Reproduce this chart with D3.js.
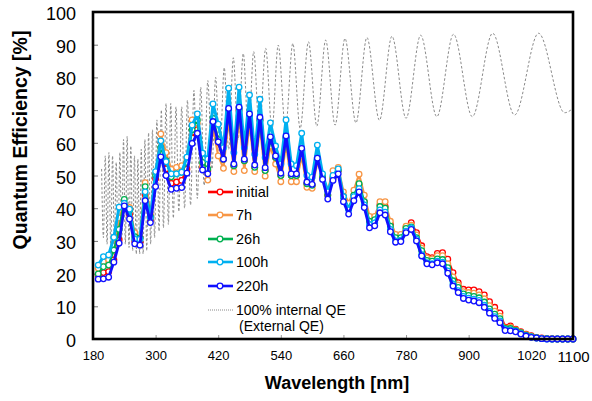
<!DOCTYPE html>
<html>
<head>
<meta charset="utf-8">
<script src="https://d3js.org/d3.v7.min.js"></script>
<style>
  body { margin: 0; background: #fff; }
  text { font-family: "Liberation Sans", Arial, sans-serif; fill: #000; }
</style>
</head>
<body>
<div id="chart"></div>
<script>
// wavelength grid of the measured curves [nm]
var wavelengths = [190,200,210,220,230,240,250,260,270,280,290,300,310,320,330,340,350,360,370,380,
  390,400,410,420,430,440,450,460,470,480,490,500,510,520,530,540,550,560,570,580,
  590,600,610,620,630,640,650,660,670,680,690,700,710,720,730,740,750,760,770,780,
  790,800,810,820,830,840,850,860,870,880,890,900,910,920,930,940,950,960,970,980,
  990,1000,1010,1020,1030,1040,1050,1060,1070,1080,1090,1100];

var qeInitial = [19.5,20.3,20.6,24.2,30.3,41.0,38.0,30.0,29.5,44.0,36.5,49.0,56.5,52.0,47.6,48.0,48.5,52.0,61.5,64.0,
  52.5,51.5,66.0,60.0,55.0,70.0,53.0,70.0,54.5,68.0,52.5,67.0,51.5,61.0,55.5,50.0,61.5,50.0,50.0,57.5,
  47.5,47.0,55.0,49.5,44.0,49.0,51.5,43.5,40.0,44.0,47.0,42.0,36.0,36.5,41.0,40.5,35.0,31.5,31.8,34.2,
  35.6,32.5,28.5,25.2,24.9,26.2,26.4,24.4,20.3,17.2,15.2,15.0,15.0,14.5,13.5,11.4,9.7,8.0,3.6,4.0,
  3.0,2.2,1.5,1.0,0.5,0.3,0.1,0.1,0,0,0,0];

var qe7h = [21.6,23.6,24.2,28.5,37.0,41.5,40.2,32.5,31.0,47.8,38.0,50.5,62.7,57.0,51.9,52.5,53.0,55.0,67.0,66.0,
  53.0,48.6,65.0,56.0,52.2,67.0,51.2,68.0,51.5,66.0,51.2,65.0,49.8,59.0,53.5,48.1,59.5,48.1,48.1,56.0,
  46.4,46.1,54.0,50.0,45.5,51.5,52.5,45.0,41.5,45.5,50.4,44.0,37.5,37.5,42.0,42.0,36.0,32.0,32.0,34.5,
  34.8,31.8,27.8,24.8,24.5,25.5,25.5,23.0,19.0,16.5,14.5,14.2,14.0,13.5,12.3,10.2,8.5,7.0,3.4,3.6,
  2.8,2.0,1.3,0.8,0.4,0.2,0.1,0,0,0,0,0];

var qe26h = [19.9,22.1,22.6,27.2,33.5,42.7,39.4,31.3,30.8,46.6,37.5,50.0,58.5,54.5,49.6,50.5,51.0,54.0,64.0,67.0,
  54.0,52.0,67.5,61.0,55.0,70.0,53.0,70.5,54.5,68.5,52.5,67.0,51.5,61.0,55.5,50.0,61.5,50.0,50.0,58.0,
  47.5,47.0,55.5,49.5,44.0,49.5,51.5,43.5,40.0,44.0,47.5,42.0,36.0,36.5,40.5,40.0,34.5,31.0,31.0,33.8,
  34.3,31.0,27.0,24.0,23.8,24.5,24.3,21.8,17.8,15.8,13.8,13.3,13.0,12.6,11.3,9.2,7.6,6.2,3.2,3.2,
  2.6,1.9,1.2,0.7,0.4,0.2,0.1,0,0,0,0,0];

var qe100h = [22.6,25.2,25.7,31.1,40.3,41.5,39.7,30.5,30.5,45.0,37.0,51.2,60.6,54.2,50.5,50.5,51.0,55.6,65.4,68.8,
  56.8,55.0,71.9,65.7,58.5,76.7,57.0,77.0,58.5,74.6,56.5,73.3,55.5,66.1,59.0,53.5,67.0,53.5,53.0,62.9,
  50.0,49.5,59.3,50.5,45.0,50.0,52.0,43.5,39.5,43.5,46.0,41.0,35.0,35.5,39.5,38.8,33.5,30.0,30.2,33.0,
  34.0,30.5,25.8,23.3,23.0,23.8,23.5,20.8,16.8,14.8,13.0,12.5,12.2,11.8,10.3,8.4,6.8,5.5,2.9,2.8,
  2.4,1.7,1.0,0.6,0.3,0.1,0,0,0,0,0,0];

var qe220h = [18.3,18.4,18.9,23.5,29.3,40.7,36.7,29.1,28.7,42.3,35.6,46.6,55.7,50.0,45.8,46.1,46.3,50.7,59.8,62.9,
  51.7,50.5,66.5,60.3,55.0,70.5,53.5,70.9,55.0,68.8,53.2,67.8,52.4,61.8,56.0,50.7,62.1,50.5,50.5,58.3,
  48.0,47.3,55.3,48.8,42.8,48.5,50.5,42.0,38.2,42.3,45.0,40.2,34.0,34.6,38.6,37.9,32.8,29.6,29.8,32.5,
  33.5,30.0,25.4,23.0,22.7,23.3,23.0,20.1,16.2,14.2,12.4,11.9,11.6,11.1,9.7,7.9,6.3,5.0,2.6,2.5,
  2.2,1.5,0.9,0.5,0.3,0.1,0,0,0,0,0,0];

// 100% internal QE (external QE) curve: turning points of the interference fringes
var extNm = [196.5,200,203.5,207,210.5,214,217.5,221,224.5,228,231.5,235,238.5,242,245.5,249,252.5,256,259.5,263,
  266,269.5,272.5,276,279.5,283,286.5,290.5,294,298,302.5,306.5,311,315,320,324.5,329,334,339,344.5,
  350,355.5,361,367,373.5,380,386.5,393,400,408,415,423,431.5,440,449,458,468,478,488,499,
  511,523,535,549,563,577,593,609,626,644,663,684,705,729,753,780,808,839,871,907,
  946,988,1034,1084,1100];
var extVal = [52,31,56,29,57,28,56,29,54,28,57,29,61,29,62,28,59,27,56,26,
  55,26,58,26,61,27,63,29,64,31,67,33,70,34,72,35,72,37,71,39,
  71,40,73,41,76,43,77,47,79,52,80,55,83,58,86,61,87.3,62,87.9,63,
  88.9,64,89.9,64.5,90.4,64.4,90.9,65.1,91.4,65.4,91.9,66.1,92.2,66.9,92.6,67.5,92.9,68,93.2,68,
  93.5,68.5,93.5,69.2,70.5];

var seriesNames = ["initial", "7h", "26h", "100h", "220h"];
var seriesColors = ["#ff0000", "#f79646", "#00b050", "#00b0f0", "#1010ff"];
var seriesValues = [qeInitial, qe7h, qe26h, qe100h, qe220h];

var xTicks = [180, 300, 420, 540, 660, 780, 900, 1020, 1100];
var yTicks = [0, 10, 20, 30, 40, 50, 60, 70, 80, 90, 100];

var width = 592, height = 401;
var margin = { top: 12, right: 19, bottom: 62, left: 93 };

var svg = d3.select('#chart').append('svg')
  .attr('width', width)
  .attr('height', height);

var x = d3.scaleLinear().domain([180, 1100]).range([margin.left, width - margin.right]);
var y = d3.scaleLinear().domain([0, 100]).range([height - margin.bottom, margin.top]);

// axes
var yAxis = svg.append('g')
  .attr('transform', 'translate(' + margin.left + ',0)')
  .call(d3.axisLeft(y).tickValues(yTicks).tickSize(-5).tickPadding(17));
yAxis.select('.domain').remove();
yAxis.selectAll('line').attr('stroke', '#777');
yAxis.selectAll('text').style('font-size', '18px').attr('dy', '0.42em');

var xAxis = svg.append('g')
  .attr('transform', 'translate(0,' + (height - margin.bottom) + ')')
  .call(d3.axisBottom(x).tickValues(xTicks).tickFormat(d3.format('d')).tickSize(-4).tickPadding(12));
xAxis.select('.domain').remove();
xAxis.selectAll('line').attr('stroke', '#999');
xAxis.selectAll('text')
  .style('font-size', function(d) { return d === 1100 ? '15px' : '13px'; })
  .attr('dy', function(d) { return d === 1100 ? '0.75em' : '0.71em'; });

// external QE dotted curve
var extLine = d3.line()
  .x(function(d) { return x(d[0]); })
  .y(function(d) { return y(d[1]); })
  .curve(d3.curveMonotoneX);

svg.append('path')
  .datum(d3.zip(extNm, extVal))
  .attr('d', extLine)
  .attr('fill', 'none')
  .attr('stroke', '#8a8a8a')
  .attr('stroke-width', 1)
  .attr('stroke-dasharray', '2.5,2');

// measured series
var line = d3.line()
  .x(function(d) { return x(d[0]); })
  .y(function(d) { return y(d[1]); });

seriesValues.forEach(function(vals, i) {
  var pts = d3.zip(wavelengths, vals);
  var g = svg.append('g');
  g.append('path')
    .datum(pts)
    .attr('d', line)
    .attr('fill', 'none')
    .attr('stroke', seriesColors[i])
    .attr('stroke-width', i === 4 ? 2.8 : (i === 3 ? 3 : 2.2))
    .attr('stroke-linejoin', 'round');
  g.selectAll('circle')
    .data(pts)
    .enter().append('circle')
    .attr('cx', function(d) { return x(d[0]); })
    .attr('cy', function(d) { return y(d[1]); })
    .attr('r', 2.8)
    .attr('fill', '#fff')
    .attr('stroke', seriesColors[i])
    .attr('stroke-width', 1.3);
});

// frame
svg.append('rect')
  .attr('x', margin.left)
  .attr('y', margin.top)
  .attr('width', width - margin.left - margin.right)
  .attr('height', height - margin.top - margin.bottom)
  .attr('fill', 'none')
  .attr('stroke', '#000')
  .attr('stroke-width', 2.6);

// legend
var legendY = [192, 215, 239, 262, 286];
var legend = svg.append('g');
seriesNames.forEach(function(name, i) {
  legend.append('line')
    .attr('x1', 208).attr('x2', 233)
    .attr('y1', legendY[i]).attr('y2', legendY[i])
    .attr('stroke', seriesColors[i])
    .attr('stroke-width', 2.6);
  legend.append('circle')
    .attr('cx', 220).attr('cy', legendY[i]).attr('r', 2.8)
    .attr('fill', '#fff')
    .attr('stroke', seriesColors[i])
    .attr('stroke-width', 1.3);
  legend.append('text')
    .attr('x', 236).attr('y', legendY[i])
    .attr('dy', '0.36em')
    .style('font-size', '14.5px')
    .text(name);
});
legend.append('line')
  .attr('x1', 208).attr('x2', 233)
  .attr('y1', 310).attr('y2', 310)
  .attr('stroke', '#8a8a8a')
  .attr('stroke-width', 1)
  .attr('stroke-dasharray', '1,1');
legend.append('text')
  .attr('x', 236).attr('y', 310).attr('dy', '0.36em')
  .style('font-size', '14px')
  .text('100% internal QE');
legend.append('text')
  .attr('x', 239).attr('y', 326).attr('dy', '0.36em')
  .style('font-size', '14px')
  .text('(External QE)');

// axis titles
svg.append('text')
  .attr('x', (margin.left + width - margin.right) / 2 + 4)
  .attr('y', 389)
  .attr('text-anchor', 'middle')
  .style('font-size', '18px')
  .style('font-weight', 'bold')
  .text('Wavelength [nm]');

svg.append('text')
  .attr('transform', 'translate(27,140) rotate(-90)')
  .attr('text-anchor', 'middle')
  .style('font-size', '19.5px')
  .style('font-weight', 'bold')
  .text('Quantum Efficiency [%]');
</script>
</body>
</html>
